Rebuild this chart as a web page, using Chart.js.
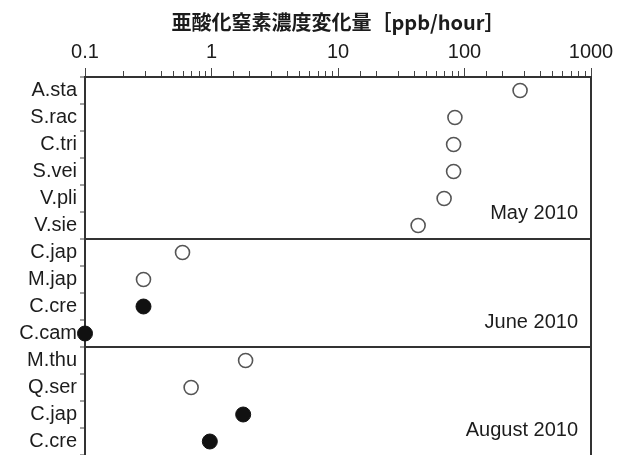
<!DOCTYPE html>
<html>
<head>
<meta charset="utf-8">
<script src="https://cdn.jsdelivr.net/npm/chart.js@4/dist/chart.umd.min.js"></script>
<style>
  html, body { margin: 0; padding: 0; background: #fff; overflow: hidden; }
  #wrap { width: 632px; height: 455px; }
</style>
</head>
<body>
<div id="wrap"><canvas id="c" width="632" height="455"></canvas></div>
<script>
// Species sampled in each month, top to bottom
const species = ['A.sta', 'S.rac', 'C.tri', 'S.vei', 'V.pli', 'V.sie',
                 'C.jap', 'M.jap', 'C.cre', 'C.cam',
                 'M.thu', 'Q.ser', 'C.jap', 'C.cre'];
// N2O concentration change rate (ppb/hour)
const rates = [275, 84, 82, 82, 69, 43,
               0.59, 0.29, 0.29, 0.1,
               1.86, 0.69, 1.78, 0.97];
// true = filled marker, false = open marker
const filled = [false, false, false, false, false, false,
                false, false, true, true,
                false, false, true, true];
// Sampling campaigns and the row each caption sits beside
const months = ['May 2010', 'June 2010', 'August 2010'];
const monthRows = [4.55, 8.6, 12.6];
// Group boundaries (between rows)
const boundaries = [5.5, 9.5];

const openPts = [], filledPts = [];
species.forEach((s, i) => {
  (filled[i] ? filledPts : openPts).push({ x: rates[i], y: i });
});

const TXT = '#1c1c1c';
const LINE = '#333';
const sans = "'Liberation Sans', Arial, Helvetica, sans-serif";

function isDecade(v) {
  const l = Math.log10(v);
  return Math.abs(l - Math.round(l)) < 1e-9;
}

const monthCaptions = {
  id: 'monthCaptions',
  afterDatasetsDraw(chart) {
    const { ctx, chartArea, scales } = chart;
    ctx.save();
    ctx.fillStyle = TXT;
    ctx.font = '20px ' + sans;
    ctx.textAlign = 'right';
    ctx.textBaseline = 'middle';
    months.forEach((m, i) => {
      ctx.fillText(m, chartArea.right - 13, scales.y.getPixelForValue(monthRows[i]));
    });
    ctx.restore();
  }
};

new Chart(document.getElementById('c'), {
  type: 'scatter',
  data: {
    datasets: [
      {
        data: openPts,
        pointRadius: 7,
        pointHoverRadius: 7,
        pointBackgroundColor: '#fff',
        pointBorderColor: '#555',
        pointBorderWidth: 1.6,
        clip: false
      },
      {
        data: filledPts,
        pointRadius: 7.5,
        pointHoverRadius: 7.5,
        pointBackgroundColor: '#111',
        pointBorderColor: '#111',
        pointBorderWidth: 1,
        clip: false
      }
    ]
  },
  options: {
    responsive: false,
    animation: false,
    devicePixelRatio: 1,
    layout: { autoPadding: false, padding: { left: 0, right: 41, top: 0, bottom: 0 } },
    plugins: { legend: { display: false }, tooltip: { enabled: false } },
    scales: {
      x: {
        type: 'logarithmic',
        position: 'top',
        min: 0.1,
        max: 1000,
        afterFit(scale) { scale.height = 77; scale.paddingLeft = 0; scale.paddingRight = 0; },
        title: {
          display: true,
          text: '亜酸化窒素濃度変化量［ppb/hour］',
          color: TXT,
          font: { family: "'Noto Sans CJK JP', sans-serif", size: 20, weight: 'bold' },
          padding: { top: 10, bottom: 0 }
        },
        ticks: {
          autoSkip: false,
          maxRotation: 0,
          minRotation: 0,
          padding: 4,
          color: TXT,
          font: { family: sans, size: 20 },
          callback(v) {
            return isDecade(v) ? String(Number(v.toPrecision(3))) : '';
          }
        },
        grid: {
          drawOnChartArea: false,
          drawTicks: true,
          tickLength: 9,
          tickWidth: 1,
          tickColor: '#444',
          tickBorderDash(ctx) {
            return (ctx.tick && isDecade(ctx.tick.value)) ? [] : [0, 3, 6, 40];
          }
        },
        border: { display: true, color: LINE, width: 2 }
      },
      y: {
        type: 'linear',
        position: 'left',
        reverse: true,
        min: -0.5,
        max: species.length - 0.5,
        afterFit(scale) { scale.width = 85; scale.paddingTop = 0; scale.paddingBottom = 0; },
        afterBuildTicks(scale) {
          const t = [];
          for (let v = -0.5; v <= species.length - 0.5 + 1e-9; v += 0.5) t.push({ value: v });
          scale.ticks = t;
        },
        ticks: {
          autoSkip: false,
          padding: 3,
          color: TXT,
          font: { family: sans, size: 20 },
          callback(v) {
            return Number.isInteger(v) ? species[v] : '';
          }
        },
        grid: {
          drawOnChartArea: true,
          drawTicks: true,
          tickLength: 5,
          lineWidth: 2,
          tickWidth: 1,
          color(ctx) {
            const v = ctx.tick ? ctx.tick.value : null;
            return boundaries.some(b => Math.abs(b - v) < 1e-9) ? LINE : 'rgba(0,0,0,0)';
          },
          tickColor(ctx) {
            const v = ctx.tick ? ctx.tick.value : 0;
            return Number.isInteger(v) ? 'rgba(0,0,0,0)' : '#444';
          }
        },
        border: { display: true, color: LINE, width: 2 }
      },
      yRight: {
        type: 'linear',
        position: 'right',
        reverse: true,
        min: -0.5,
        max: species.length - 0.5,
        afterFit(scale) { scale.width = 0; scale.paddingTop = 0; scale.paddingBottom = 0; },
        ticks: { display: false },
        grid: { drawOnChartArea: false, drawTicks: false },
        border: { display: true, color: LINE, width: 2 }
      }
    }
  },
  plugins: [monthCaptions]
});
</script>
</body>
</html>
